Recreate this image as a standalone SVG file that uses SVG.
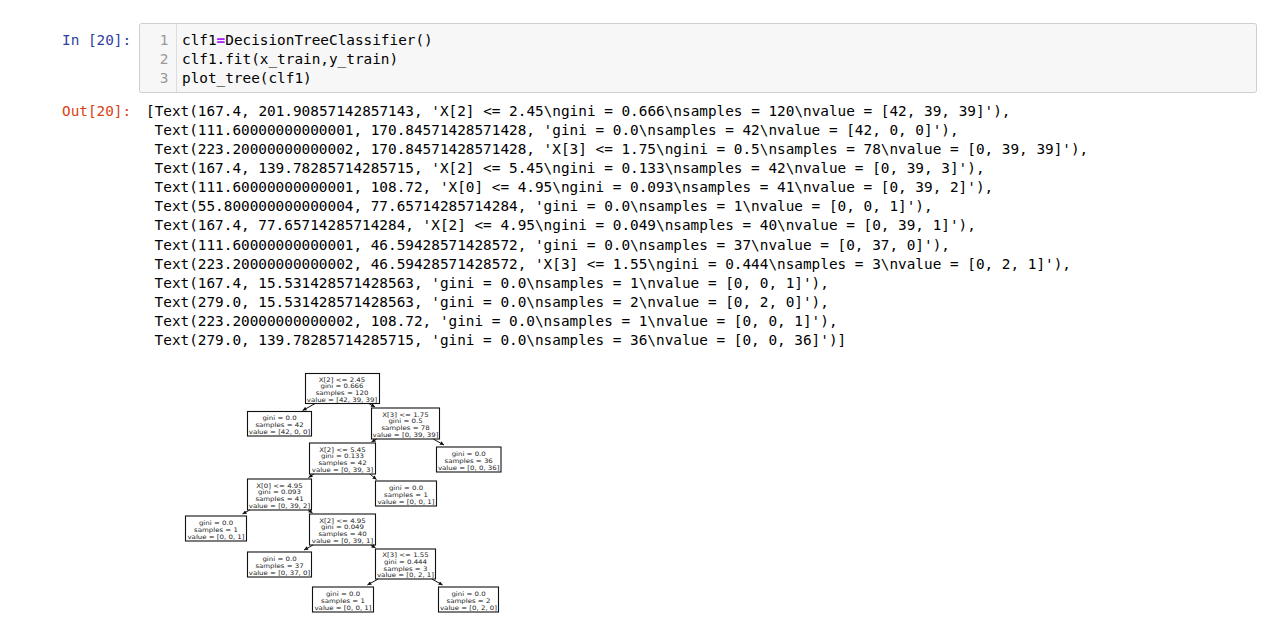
<svg xmlns="http://www.w3.org/2000/svg" width="1280" height="623" viewBox="0 0 1280 623">
<style>
.mono{font-family:"DejaVu Sans Mono","Liberation Mono",monospace;font-size:14.37px;fill:#000}
.pin{fill:#303F9F}
.pout{fill:#D84315}
.ln{fill:#999}
.op{fill:#AA22FF;font-weight:bold}
.box{fill:#fff;stroke:#111;stroke-width:1.1}
.t{font-family:"DejaVu Sans","Liberation Sans",sans-serif;font-size:7px;fill:#222;text-anchor:middle}
.edge{stroke:#111;stroke-width:1;fill:none;marker-end:url(#ah)}
</style>
<defs>
<marker id="ah" viewBox="0 0 10 10" refX="10" refY="5" markerWidth="4.5" markerHeight="4" markerUnits="userSpaceOnUse" orient="auto">
<path d="M0,0 L10,5 L0,10 z" fill="#111"/>
</marker>
</defs>
<rect width="1280" height="623" fill="#fff"/>

<g id="input-cell">
<text class="mono pin" x="62" y="44.5">In [20]:</text>
<rect x="139.5" y="23.5" width="1117" height="69" rx="2" fill="#f7f7f7" stroke="#cfcfcf"/>
<line x1="176.5" y1="24" x2="176.5" y2="92" stroke="#ddd"/>
<text class="mono ln" x="168.5" y="44.5" text-anchor="end">1</text>
<text class="mono ln" x="168.5" y="63.5" text-anchor="end">2</text>
<text class="mono ln" x="168.5" y="82.5" text-anchor="end">3</text>
<text class="mono" x="182" y="44.5">clf1<tspan class="op">=</tspan>DecisionTreeClassifier()</text>
<text class="mono" x="182" y="63.5">clf1.fit(x_train,y_train)</text>
<text class="mono" x="182" y="82.5">plot_tree(clf1)</text>
</g>

<g id="output-text">
<text class="mono pout" x="62" y="116">Out[20]:</text>
<text class="mono" x="146" y="116">[Text(167.4, 201.90857142857143, 'X[2] &lt;= 2.45\ngini = 0.666\nsamples = 120\nvalue = [42, 39, 39]'),</text>
<text class="mono" x="154.6" y="135.1">Text(111.60000000000001, 170.84571428571428, 'gini = 0.0\nsamples = 42\nvalue = [42, 0, 0]'),</text>
<text class="mono" x="154.6" y="154.1">Text(223.20000000000002, 170.84571428571428, 'X[3] &lt;= 1.75\ngini = 0.5\nsamples = 78\nvalue = [0, 39, 39]'),</text>
<text class="mono" x="154.6" y="173.2">Text(167.4, 139.78285714285715, 'X[2] &lt;= 5.45\ngini = 0.133\nsamples = 42\nvalue = [0, 39, 3]'),</text>
<text class="mono" x="154.6" y="192.3">Text(111.60000000000001, 108.72, 'X[0] &lt;= 4.95\ngini = 0.093\nsamples = 41\nvalue = [0, 39, 2]'),</text>
<text class="mono" x="154.6" y="211.3">Text(55.800000000000004, 77.65714285714284, 'gini = 0.0\nsamples = 1\nvalue = [0, 0, 1]'),</text>
<text class="mono" x="154.6" y="230.4">Text(167.4, 77.65714285714284, 'X[2] &lt;= 4.95\ngini = 0.049\nsamples = 40\nvalue = [0, 39, 1]'),</text>
<text class="mono" x="154.6" y="249.5">Text(111.60000000000001, 46.59428571428572, 'gini = 0.0\nsamples = 37\nvalue = [0, 37, 0]'),</text>
<text class="mono" x="154.6" y="268.6">Text(223.20000000000002, 46.59428571428572, 'X[3] &lt;= 1.55\ngini = 0.444\nsamples = 3\nvalue = [0, 2, 1]'),</text>
<text class="mono" x="154.6" y="287.6">Text(167.4, 15.531428571428563, 'gini = 0.0\nsamples = 1\nvalue = [0, 0, 1]'),</text>
<text class="mono" x="154.6" y="306.7">Text(279.0, 15.531428571428563, 'gini = 0.0\nsamples = 2\nvalue = [0, 2, 0]'),</text>
<text class="mono" x="154.6" y="325.8">Text(223.20000000000002, 108.72, 'gini = 0.0\nsamples = 1\nvalue = [0, 0, 1]'),</text>
<text class="mono" x="154.6" y="344.8">Text(279.0, 139.78285714285715, 'gini = 0.0\nsamples = 36\nvalue = [0, 0, 36]')]</text>
</g>

<g id="tree">
<g id="node-0">
<rect class="box" x="305.5" y="373.5" width="74" height="30"/>
<text class="t" transform="translate(342,388.5) scale(1,0.88)"><tspan x="0" y="-7.8">X[2] &lt;= 2.45</tspan><tspan x="0" y="-0.1">gini = 0.666</tspan><tspan x="0" y="7.6">samples = 120</tspan><tspan x="0" y="15.3">value = [42, 39, 39]</tspan></text>
</g>
<g id="node-1">
<rect class="box" x="247.5" y="411.5" width="64" height="24.5"/>
<text class="t" transform="translate(279.5,423.7) scale(1,0.88)"><tspan x="0" y="-4">gini = 0.0</tspan><tspan x="0" y="3.7">samples = 42</tspan><tspan x="0" y="11.4">value = [42, 0, 0]</tspan></text>
</g>
<g id="node-2">
<rect class="box" x="371.5" y="408" width="68" height="31"/>
<text class="t" transform="translate(405.5,423.5) scale(1,0.88)"><tspan x="0" y="-7.8">X[3] &lt;= 1.75</tspan><tspan x="0" y="-0.1">gini = 0.5</tspan><tspan x="0" y="7.6">samples = 78</tspan><tspan x="0" y="15.3">value = [0, 39, 39]</tspan></text>
</g>
<g id="node-3">
<rect class="box" x="309.5" y="443" width="66" height="31"/>
<text class="t" transform="translate(342.5,458.5) scale(1,0.88)"><tspan x="0" y="-7.8">X[2] &lt;= 5.45</tspan><tspan x="0" y="-0.1">gini = 0.133</tspan><tspan x="0" y="7.6">samples = 42</tspan><tspan x="0" y="15.3">value = [0, 39, 3]</tspan></text>
</g>
<g id="node-12">
<rect class="box" x="436.5" y="447" width="64.5" height="25"/>
<text class="t" transform="translate(468.7,459.5) scale(1,0.88)"><tspan x="0" y="-4">gini = 0.0</tspan><tspan x="0" y="3.7">samples = 36</tspan><tspan x="0" y="11.4">value = [0, 0, 36]</tspan></text>
</g>
<g id="node-4">
<rect class="box" x="247.5" y="479" width="64" height="31"/>
<text class="t" transform="translate(279.5,494.5) scale(1,0.88)"><tspan x="0" y="-7.8">X[0] &lt;= 4.95</tspan><tspan x="0" y="-0.1">gini = 0.093</tspan><tspan x="0" y="7.6">samples = 41</tspan><tspan x="0" y="15.3">value = [0, 39, 2]</tspan></text>
</g>
<g id="node-11">
<rect class="box" x="375.5" y="481" width="61" height="25"/>
<text class="t" transform="translate(406,493.5) scale(1,0.88)"><tspan x="0" y="-4">gini = 0.0</tspan><tspan x="0" y="3.7">samples = 1</tspan><tspan x="0" y="11.4">value = [0, 0, 1]</tspan></text>
</g>
<g id="node-5">
<rect class="box" x="185.5" y="516" width="61" height="25"/>
<text class="t" transform="translate(216,528.5) scale(1,0.88)"><tspan x="0" y="-4">gini = 0.0</tspan><tspan x="0" y="3.7">samples = 1</tspan><tspan x="0" y="11.4">value = [0, 0, 1]</tspan></text>
</g>
<g id="node-6">
<rect class="box" x="309.5" y="514" width="66" height="31"/>
<text class="t" transform="translate(342.5,529.5) scale(1,0.88)"><tspan x="0" y="-7.8">X[2] &lt;= 4.95</tspan><tspan x="0" y="-0.1">gini = 0.049</tspan><tspan x="0" y="7.6">samples = 40</tspan><tspan x="0" y="15.3">value = [0, 39, 1]</tspan></text>
</g>
<g id="node-7">
<rect class="box" x="247.5" y="552" width="64" height="25"/>
<text class="t" transform="translate(279.5,564.5) scale(1,0.88)"><tspan x="0" y="-4">gini = 0.0</tspan><tspan x="0" y="3.7">samples = 37</tspan><tspan x="0" y="11.4">value = [0, 37, 0]</tspan></text>
</g>
<g id="node-8">
<rect class="box" x="375.5" y="549" width="60" height="30"/>
<text class="t" transform="translate(405.5,564) scale(1,0.88)"><tspan x="0" y="-7.8">X[3] &lt;= 1.55</tspan><tspan x="0" y="-0.1">gini = 0.444</tspan><tspan x="0" y="7.6">samples = 3</tspan><tspan x="0" y="15.3">value = [0, 2, 1]</tspan></text>
</g>
<g id="node-9">
<rect class="box" x="312.5" y="587" width="61" height="25"/>
<text class="t" transform="translate(343,599.5) scale(1,0.88)"><tspan x="0" y="-4">gini = 0.0</tspan><tspan x="0" y="3.7">samples = 1</tspan><tspan x="0" y="11.4">value = [0, 0, 1]</tspan></text>
</g>
<g id="node-10">
<rect class="box" x="438.5" y="587" width="60" height="25"/>
<text class="t" transform="translate(468.5,599.5) scale(1,0.88)"><tspan x="0" y="-4">gini = 0.0</tspan><tspan x="0" y="3.7">samples = 2</tspan><tspan x="0" y="11.4">value = [0, 2, 0]</tspan></text>
</g>

<g id="connectors">
<line class="edge" x1="315.2" y1="403.5" x2="302.6" y2="410.5"/>
<line class="edge" x1="368.8" y1="403.5" x2="375" y2="407"/>
<line class="edge" x1="376.7" y1="439" x2="371.5" y2="442"/>
<line class="edge" x1="433.3" y1="439" x2="444" y2="445"/>
<line class="edge" x1="314.1" y1="474" x2="308.5" y2="477.5"/>
<line class="edge" x1="369.9" y1="474" x2="376.5" y2="479.5"/>
<line class="edge" x1="249.6" y1="510" x2="242.5" y2="514"/>
<line class="edge" x1="308.4" y1="510" x2="312.5" y2="513"/>
<line class="edge" x1="313" y1="545" x2="304.1" y2="550"/>
<line class="edge" x1="371" y1="545" x2="375.5" y2="548"/>
<line class="edge" x1="378.2" y1="579" x2="367.4" y2="585"/>
<line class="edge" x1="431.8" y1="579" x2="442.6" y2="585"/>
</g>
</g>
</svg>
